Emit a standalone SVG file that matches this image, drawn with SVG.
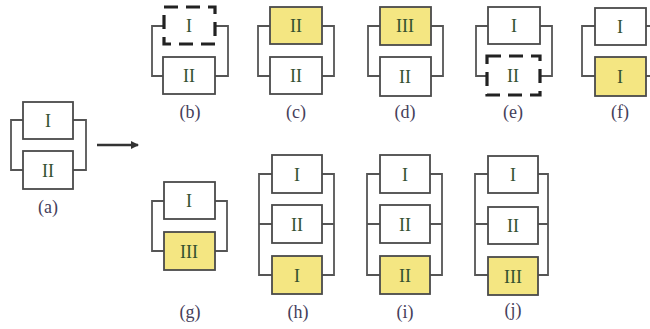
<svg xmlns="http://www.w3.org/2000/svg" width="650" height="329" viewBox="0 0 650 329">
<style>
.box{fill:#ffffff;stroke:#4a4a4a;stroke-width:1.8}
.hl{fill:#f4e682;stroke:#4a4a4a;stroke-width:1.8}
.dash{fill:#ffffff;stroke:#222222;stroke-width:3.2;stroke-dasharray:14 8}
.wire{fill:none;stroke:#555555;stroke-width:1.8}
.num{font-family:"Liberation Serif",serif;font-size:18px;fill:#33502f;text-anchor:middle}
.lab{font-family:"Liberation Serif",serif;font-size:18px;fill:#45405a;text-anchor:middle}
</style>
<defs>
<marker id="ah" markerWidth="8" markerHeight="8" refX="7" refY="4" orient="auto" markerUnits="userSpaceOnUse">
<path d="M0,0 L8,4 L0,8 Z" fill="#333333"/>
</marker>
</defs>
<rect width="650" height="329" fill="#ffffff"/>
<g id="connectors">
<path class="wire" d="M23,120 H11 V170 H23 M73,120 H86 V170 H73"/>
<line x1="97" y1="145" x2="138" y2="145" stroke="#333333" stroke-width="2.5" marker-end="url(#ah)"/>
<path class="wire" d="M163,26 H152 V76 H163 M215,26 H228 V76 H215"/>
<path class="wire" d="M270,26 H258 V76 H270 M322,26 H334 V76 H322"/>
<path class="wire" d="M380,26 H368 V76 H380 M431,26 H443 V76 H431"/>
<path class="wire" d="M488,26 H476 V76 H488 M540,26 H552 V76 H540"/>
<path class="wire" d="M595,26 H582 V76 H595 M646,26 H658 V76 H646"/>
<path class="wire" d="M164,201 H152 V251 H164 M215,201 H227 V251 H215"/>
<path class="wire" d="M272,174 H259 V275 H272 M259,224 H272 M322,174 H334 V275 H322 M322,224 H334"/>
<path class="wire" d="M380,174 H367 V275 H380 M367,224 H380 M430,174 H442 V275 H430 M430,224 H442"/>
<path class="wire" d="M488,174 H475 V275 H488 M475,224 H488 M538,174 H548 V275 H538 M538,224 H548"/>
</g>
<g id="a">
<rect class="box" x="23" y="102" width="50" height="37"/><text class="num" x="48" y="127">I</text>
<rect class="box" x="23" y="151" width="50" height="38"/><text class="num" x="48" y="177">II</text>
<text class="lab" x="48" y="213">(a)</text>
</g>
<g id="b">
<rect class="dash" x="164" y="7" width="51" height="37"/><text class="num" x="189" y="32">I</text>
<rect class="box" x="163" y="57" width="52" height="37"/><text class="num" x="189" y="82">II</text>
<text class="lab" x="190" y="118">(b)</text>
</g>
<g id="c">
<rect class="hl" x="270" y="7" width="52" height="37"/><text class="num" x="296" y="32">II</text>
<rect class="box" x="270" y="57" width="52" height="37"/><text class="num" x="296" y="82">II</text>
<text class="lab" x="296" y="118">(c)</text>
</g>
<g id="d">
<rect class="hl" x="380" y="7" width="51" height="38"/><text class="num" x="405" y="32">III</text>
<rect class="box" x="380" y="57" width="51" height="39"/><text class="num" x="405" y="83">II</text>
<text class="lab" x="405" y="118">(d)</text>
</g>
<g id="e">
<rect class="box" x="488" y="7" width="52" height="37"/><text class="num" x="514" y="32">I</text>
<rect class="dash" x="487" y="56" width="53" height="39"/><text class="num" x="513" y="82">II</text>
<text class="lab" x="513" y="118">(e)</text>
</g>
<g id="f">
<rect class="box" x="595" y="8" width="51" height="37"/><text class="num" x="620" y="33">I</text>
<rect class="hl" x="595" y="57" width="51" height="39"/><text class="num" x="620" y="83">I</text>
<text class="lab" x="620" y="118">(f)</text>
</g>
<g id="g">
<rect class="box" x="164" y="182" width="51" height="37"/><text class="num" x="189" y="207">I</text>
<rect class="hl" x="164" y="232" width="51" height="38"/><text class="num" x="189" y="258">III</text>
<text class="lab" x="190" y="318">(g)</text>
</g>
<g id="h">
<rect class="box" x="272" y="155" width="50" height="38"/><text class="num" x="297" y="181">I</text>
<rect class="box" x="272" y="205" width="50" height="38"/><text class="num" x="297" y="231">II</text>
<rect class="hl" x="272" y="256" width="50" height="38"/><text class="num" x="297" y="282">I</text>
<text class="lab" x="298" y="318">(h)</text>
</g>
<g id="i">
<rect class="box" x="380" y="155" width="50" height="38"/><text class="num" x="405" y="181">I</text>
<rect class="box" x="380" y="205" width="50" height="38"/><text class="num" x="405" y="231">II</text>
<rect class="hl" x="380" y="256" width="50" height="38"/><text class="num" x="405" y="282">II</text>
<text class="lab" x="405" y="318">(i)</text>
</g>
<g id="j">
<rect class="box" x="488" y="156" width="50" height="37"/><text class="num" x="513" y="181">I</text>
<rect class="box" x="488" y="207" width="50" height="37"/><text class="num" x="513" y="232">II</text>
<rect class="hl" x="488" y="257" width="50" height="38"/><text class="num" x="513" y="283">III</text>
<text class="lab" x="513" y="316">(j)</text>
</g>
</svg>
